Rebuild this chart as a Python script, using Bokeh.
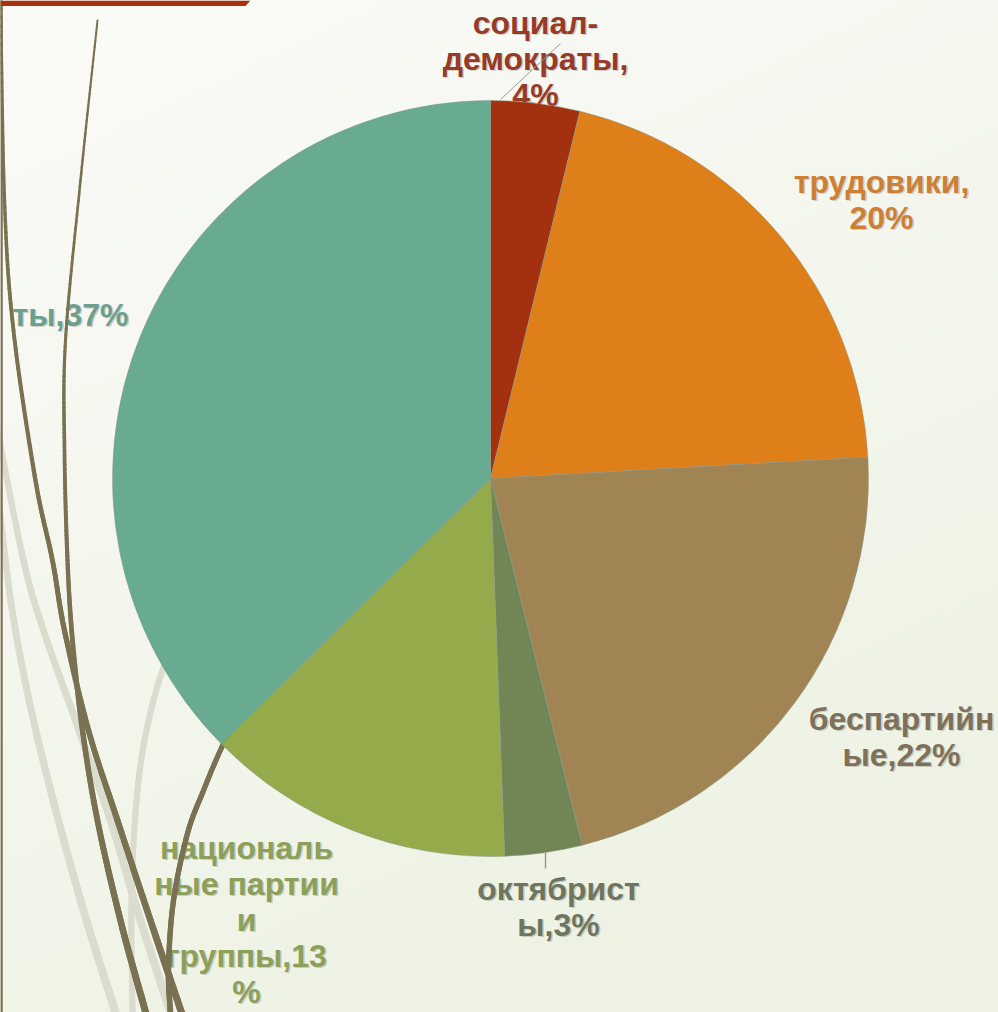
import numpy as np
from bokeh.plotting import figure
from bokeh.models import Range1d, ColumnDataSource
from bokeh.core.properties import value
from bokeh.embed import file_html
from bokeh.resources import INLINE

# ---------------- data ----------------
parties = ["социал-демократы", "трудовики", "беспартийные", "октябристы",
           "национальные партии и группы", "кадеты"]
shares = [3.8, 20.3, 22.0, 3.3, 13.2, 37.4]
labels = ["социал-\nдемократы,\n4%", "трудовики,\n20%", "беспартийн\nые,22%",
          "октябрист\nы,3%", "националь\nные партии\nи\nгруппы,13\n%", "ты,37%"]

# ---------------- styles / layout ----------------
slice_colors = ["#a3300f", "#df7f1a", "#a08454", "#718654", "#94aa4b", "#68ab91"]
label_colors = ["#973b27", "#cd7f35", "#7f705a", "#6e765f", "#8ca05a", "#6d9f8d"]
label_x = [535, 881, 901, 558, 246, 12]
label_y = [58, 199, 736, 906, 919, 314]
label_align = ["center", "center", "center", "center", "center", "left"]

W, H = 998, 1012
CX, CY, R = 490, 478, 378
FONT = "Liberation Sans"
FS = "32px"
LH = 1.0

p = figure(width=W, height=H, x_range=Range1d(0, W), y_range=Range1d(-H, 0),
           output_backend="svg", toolbar_location=None, min_border=0,
           x_axis_location=None, y_axis_location=None)
p.grid.visible = False
p.outline_line_color = None
p.background_fill_color = "#f5f7ef"
p.border_fill_color = "#f5f7ef"

# background gradient (decorative)
ny, nx = 200, 200
yy, xx = np.mgrid[0:ny, 0:nx]
v = 1.0 - yy / (ny - 1)          # 0 at top, 1 at bottom
u = xx / (nx - 1)
t = np.clip(0.75 * v + 0.35 * u, 0, 1)
c0 = np.array([251, 251, 248]); c1 = np.array([237, 242, 226])
rgb = (c0[None, None, :] * (1 - t[..., None]) + c1[None, None, :] * t[..., None]).astype(np.uint32)
img = (255 << 24) | (rgb[..., 2] << 16) | (rgb[..., 1] << 8) | rgb[..., 0]
p.image_rgba(image=[img.astype(np.uint32)], x=0, y=-H, dw=W, dh=H)

# ---------------- labels (drawn under the theme lines and the pie, as in the slide) ----------------
lab = ColumnDataSource(dict(x=label_x, y=[-v for v in label_y], text=labels,
                            color=label_colors, align=label_align,
                            sx=[x + 1.5 for x in label_x], sy=[-v - 1.5 for v in label_y]))
p.text(x="sx", y="sy", text="text", text_align="align", text_baseline="middle",
       text_font=value(FONT), text_font_style="bold", text_font_size=FS,
       text_line_height=LH, text_color="#000000", text_alpha=0.18, source=lab)
p.text(x="x", y="y", text="text", text_align="align", text_baseline="middle",
       text_font=value(FONT), text_font_style="bold", text_font_size=FS,
       text_line_height=LH, text_color="color", source=lab)


def smooth(pts, n=24):
    P = np.array(pts, float)
    P = np.vstack([2 * P[0] - P[1], P, 2 * P[-1] - P[-2]])
    out = []
    tt = np.linspace(0, 1, n, endpoint=False)[:, None]
    for i in range(1, len(P) - 2):
        p0, p1, p2, p3 = P[i - 1], P[i], P[i + 1], P[i + 2]
        seg = 0.5 * ((2 * p1) + (-p0 + p2) * tt + (2 * p0 - 5 * p1 + 4 * p2 - p3) * tt ** 2
                     + (-p0 + 3 * p1 - 3 * p2 + p3) * tt ** 3)
        out.append(seg)
    out.append(P[-2][None, :])
    return np.vstack(out)


def draw_curve(pts, w0, w1, color):
    c = smooth(pts)
    xs = [[c[i, 0], c[i + 1, 0]] for i in range(len(c) - 1)]
    ys = [[-c[i, 1], -c[i + 1, 1]] for i in range(len(c) - 1)]
    ws = list(np.linspace(w0, w1, len(xs)))
    p.multi_line(xs=xs, ys=ys, line_width=ws, line_color=color, line_cap="round")


DARK, LIGHT = "#7a7152", "#dadccd"
deco_light = [
    ([(-5, 470), (5, 560), (15, 630), (33, 720), (58, 820), (86, 920), (116, 1015)], 6, 8),
    ([(-5, 420), (23, 560), (43, 630), (75, 720), (110, 820), (140, 920), (171, 1015)], 6, 8),
    ([(190, 600), (163, 667), (146, 730), (136, 800), (131, 900), (132, 1015)], 6, 6),
]
deco_dark = [
    ([(0, -10), (4, 200), (13, 330), (35, 480), (52, 560), (64, 630), (88, 730), (117, 820), (150, 920), (182, 1015)], 3, 7),
    ([(97, 20), (80, 180), (65, 340), (64, 450), (67, 560), (72, 640), (82, 730), (97, 820), (120, 920), (146, 1015)], 2, 7),
    ([(250, 690), (223, 743), (203, 790), (187, 833), (173, 900), (168, 967), (170, 1015)], 5, 5.5),
]
for pts, a, b in deco_light:
    draw_curve(pts, a, b, LIGHT)
for pts, a, b in deco_dark:
    draw_curve(pts, a, b, DARK)
# left edge rule and top-left accent bar (slide theme decoration)
p.segment(x0=[1], y0=[0], x1=[1], y1=[-H], line_color=DARK, line_width=2.5)
p.patch(x=[0, 250, 245, 0], y=[0, 0, -5.5, -5.5], fill_color="#a83210", line_color=None)

# ---------------- pie ----------------
tot = float(sum(shares))
cum = np.concatenate([[0.0], np.cumsum(shares)]) / tot
start = [np.pi / 2 - 2 * np.pi * cum[i] for i in range(len(shares))]
end = [np.pi / 2 - 2 * np.pi * cum[i + 1] for i in range(len(shares))]
src = ColumnDataSource(dict(party=parties, share=shares, start=start, end=end, color=slice_colors))
p.wedge(x=CX, y=-CY, radius=R, start_angle="start", end_angle="end", direction="clock",
        fill_color="color", line_color="#8a978a", line_alpha=0.5, line_width=1, source=src)

# leader lines
p.segment(x0=[500, 545], y0=[-99, -852], x1=[560, 545], y1=[-43, -868],
          line_color="#9a9a90", line_width=[1, 1.5])

open("out.html", "w").write(file_html(p, INLINE))
